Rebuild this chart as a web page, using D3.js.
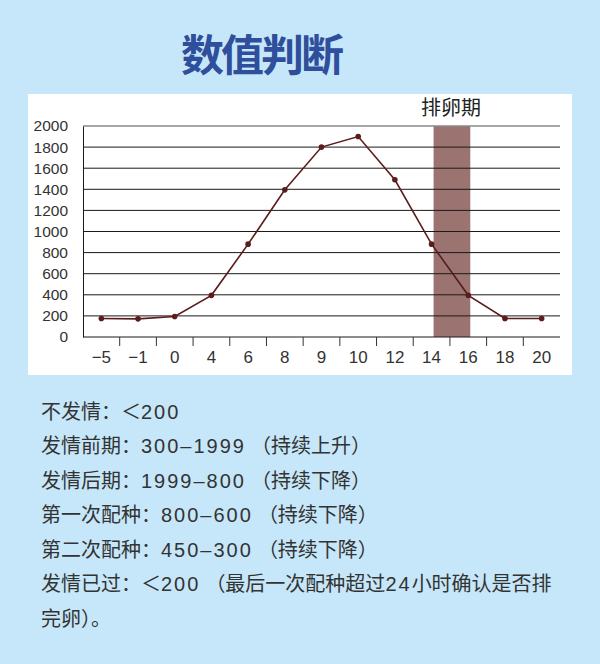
<!DOCTYPE html>
<html>
<head>
<meta charset="utf-8">
<script src="https://cdn.jsdelivr.net/npm/d3@7"></script>
<style>
  body { margin: 0; background: #c6e7f9; }
  svg { display: block; }
  .note { white-space: pre; }
</style>
</head>
<body>
<div id="chart"></div>
<script>
// chart data
var days = [-5, -1, 0, 4, 6, 8, 9, 10, 12, 14, 16, 18, 20];
var readings = [175, 172, 195, 395, 880, 1395, 1800, 1900, 1490, 880, 395, 175, 175];
var yTicks = [0, 200, 400, 600, 800, 1000, 1200, 1400, 1600, 1800, 2000];
var ovulation = [14, 16];
var ovulationLabel = "排卵期";
var title = "数值判断";
var notes = [
  "不发情：＜200",
  "发情前期：300–1999\u2005（持续上升）",
  "发情后期：1999–800\u2005（持续下降）",
  "第一次配种：800–600\u2005（持续下降）",
  "第二次配种：450–300\u2005（持续下降）",
  "发情已过：＜200\u2005（最后一次配种超过24小时确认是否排",
  "完卵）。"
];

var svgWidth = 600;
var svgHeight = 664;

var margin = { top: 126, left: 83, right: 40, bottom: 327 };
var width = 560 - margin.left;
var height = 337 - margin.top;

var svg = d3.select("#chart")
  .append("svg")
  .attr("width", svgWidth)
  .attr("height", svgHeight);

svg.append("rect")
  .attr("width", svgWidth)
  .attr("height", svgHeight)
  .attr("fill", "#c6e7f9");

// title
svg.append("text")
  .attr("x", 261)
  .attr("y", 71)
  .attr("text-anchor", "middle")
  .attr("font-family", "Noto Sans CJK SC")
  .attr("font-weight", "bold")
  .attr("font-size", 43)
  .attr("letter-spacing", -3)
  .attr("fill", "#2f4e9c")
  .text(title);

// white panel behind the chart
svg.append("rect")
  .attr("x", 28)
  .attr("y", 94)
  .attr("width", 544)
  .attr("height", 281)
  .attr("fill", "#ffffff");

var chartGroup = svg.append("g")
  .attr("transform", `translate(${margin.left}, ${margin.top})`);

var xScale = d3.scaleBand()
  .domain(days)
  .range([0, width]);

var yScale = d3.scaleLinear()
  .domain([0, 2000])
  .range([height, 0]);

var mid = d => xScale(d) + xScale.bandwidth() / 2;

// ovulation band
chartGroup.append("rect")
  .attr("x", mid(ovulation[0]) + 2)
  .attr("y", yScale(2000))
  .attr("width", mid(ovulation[1]) - mid(ovulation[0]))
  .attr("height", yScale(0) - yScale(2000))
  .attr("fill", "#9b7471");

chartGroup.append("text")
  .attr("x", (mid(ovulation[0]) + mid(ovulation[1])) / 2 + 1)
  .attr("y", yScale(2000) - 11)
  .attr("text-anchor", "middle")
  .attr("font-family", "Noto Sans CJK SC")
  .attr("font-size", 20)
  .attr("fill", "#222")
  .text(ovulationLabel);

// horizontal grid lines
chartGroup.selectAll(".grid")
  .data(yTicks.filter(d => d > 0))
  .enter()
  .append("line")
  .attr("class", "grid")
  .attr("x1", 0)
  .attr("x2", width)
  .attr("y1", d => yScale(d))
  .attr("y2", d => yScale(d))
  .attr("stroke", d => d === 2000 ? "#8a8a8a" : "#1a1a1a")
  .attr("stroke-width", d => d === 2000 ? 1.6 : 1);

// y axis
var leftAxis = d3.axisLeft(yScale)
  .tickValues(yTicks)
  .tickFormat(d3.format("d"))
  .tickSize(0)
  .tickPadding(15);

var yAxis = chartGroup.append("g")
  .call(leftAxis);

yAxis.select(".domain")
  .attr("stroke", "#1a1a1a");

yAxis.selectAll("text")
  .attr("font-family", "Liberation Sans")
  .attr("font-size", 15.5)
  .attr("fill", "#333");

// x axis, ticks sit between the categories
var xAxis = chartGroup.append("g")
  .attr("transform", `translate(0, ${height})`);

xAxis.append("line")
  .attr("x1", 0)
  .attr("x2", width)
  .attr("stroke", "#1a1a1a");

xAxis.selectAll(".tick-mark")
  .data(days.slice(1))
  .enter()
  .append("line")
  .attr("class", "tick-mark")
  .attr("x1", d => xScale(d))
  .attr("x2", d => xScale(d))
  .attr("y1", 0)
  .attr("y2", 9)
  .attr("stroke", "#333");

xAxis.selectAll(".tick-label")
  .data(days)
  .enter()
  .append("text")
  .attr("class", "tick-label")
  .attr("x", d => mid(d))
  .attr("y", 26)
  .attr("text-anchor", "middle")
  .attr("font-family", "Liberation Sans")
  .attr("font-size", 17)
  .attr("fill", "#333")
  .text(d => d3.format("d")(d));

// line and points
var line = d3.line()
  .x((d, i) => mid(days[i]))
  .y(d => yScale(d));

chartGroup.append("path")
  .datum(readings)
  .attr("d", line)
  .attr("fill", "none")
  .attr("stroke", "#5a1c1c")
  .attr("stroke-width", 1.6);

chartGroup.selectAll("circle")
  .data(readings)
  .enter()
  .append("circle")
  .attr("cx", (d, i) => mid(days[i]))
  .attr("cy", d => yScale(d))
  .attr("r", 2.8)
  .attr("fill", "#5a1c1c");

// notes below the chart, numbers set in a latin face
var isNum = s => /[0-9]/.test(s);

svg.selectAll(".note")
  .data(notes)
  .enter()
  .append("text")
  .attr("class", "note")
  .attr("x", 41)
  .attr("y", (d, i) => 418.5 + i * 34.5)
  .attr("font-size", 20)
  .attr("fill", "#333")
  .selectAll("tspan")
  .data(d => d.split(/([0-9–]+)/).filter(s => s.length))
  .enter()
  .append("tspan")
  .attr("font-family", s => isNum(s) ? "Liberation Sans" : "Noto Sans CJK SC")
  .attr("letter-spacing", s => isNum(s) ? 2 : 0)
  .text(s => s);
</script>
</body>
</html>
